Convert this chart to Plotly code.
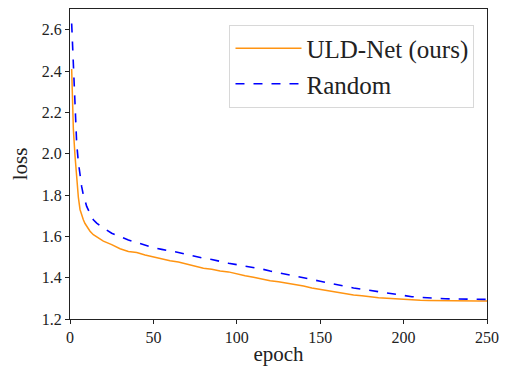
import plotly.graph_objects as go

epochs = [1, 2, 3, 4, 5, 6, 7, 8, 9, 10, 12, 14, 16, 18, 20,
          25, 30, 35, 40, 45, 50, 55, 60, 65, 70, 75, 80, 85, 90, 95,
          100, 105, 110, 115, 120, 125, 130, 135, 140, 145, 150, 155, 160,
          165, 170, 175, 180, 185, 190, 195, 200, 205, 210, 215, 220, 225,
          230, 235, 240, 245, 250]

uld_net = [2.41, 2.12, 1.99, 1.87, 1.79, 1.73, 1.70, 1.68, 1.662, 1.648,
           1.625, 1.608, 1.597, 1.585, 1.577,
           1.560, 1.540, 1.527, 1.522, 1.510, 1.500, 1.490, 1.482, 1.476,
           1.466, 1.458, 1.446, 1.441, 1.432, 1.428,
           1.417, 1.409, 1.402, 1.393, 1.385, 1.380, 1.374, 1.365, 1.360,
           1.350, 1.343, 1.335, 1.328,
           1.322, 1.316, 1.312, 1.306, 1.303, 1.300, 1.297, 1.294, 1.292,
           1.291, 1.290, 1.289, 1.288,
           1.288, 1.287, 1.287, 1.287, 1.287]

random_init = [2.63, 2.42, 2.20, 2.05, 1.96, 1.89, 1.84, 1.80, 1.77, 1.745,
               1.71, 1.68, 1.664, 1.650, 1.640,
               1.615, 1.598, 1.582, 1.570, 1.558, 1.545, 1.537, 1.530, 1.522,
               1.512, 1.502, 1.494, 1.488, 1.478, 1.470,
               1.463, 1.456, 1.450, 1.442, 1.432, 1.424, 1.415, 1.410, 1.402,
               1.392, 1.383, 1.374, 1.365,
               1.357, 1.350, 1.344, 1.338, 1.331, 1.325, 1.319, 1.314, 1.308,
               1.305, 1.302, 1.300, 1.298,
               1.297, 1.296, 1.295, 1.295, 1.295]

y_ticks = [1.2, 1.4, 1.6, 1.8, 2.0, 2.2, 2.4, 2.6]
x_ticks = [0, 50, 100, 150, 200, 250]

FONT = "Liberation Serif"

fig = go.Figure()
fig.add_trace(go.Scatter(x=epochs, y=uld_net, mode="lines", name="ULD-Net (ours)",
                         line=dict(color="#ff9412", width=1.5)))
fig.add_trace(go.Scatter(x=epochs, y=random_init, mode="lines", name="Random",
                         line=dict(color="#0000ff", width=1.6, dash="dash")))

axis_common = dict(showline=True, linecolor="#222", linewidth=1, mirror=True,
                   ticks="outside", ticklen=4, tickcolor="#222", showgrid=False,
                   zeroline=False, tickfont=dict(family=FONT, size=16, color="#222"))

# the page body has an 8px margin, so the figure is 8px smaller on each side
fig.update_layout(
    width=500, height=365,
    margin=dict(l=62, r=21, t=1, b=54),
    paper_bgcolor="white", plot_bgcolor="white",
    font=dict(family=FONT, color="#222"),
    xaxis=dict(range=[0, 250], tickvals=x_ticks,
               title=dict(text="epoch", font=dict(family=FONT, size=21, color="#222"), standoff=1),
               **axis_common),
    yaxis=dict(range=[1.2, 2.7], tickvals=y_ticks, tickformat=".1f",
               title=dict(text="loss", font=dict(family=FONT, size=21, color="#222"), standoff=11),
               **axis_common),
    legend=dict(x=0.97, y=0.95, xanchor="right", yanchor="top",
                bgcolor="white", bordercolor="#d8d8d8", borderwidth=1,
                font=dict(family=FONT, size=25, color="#222"),
                itemwidth=66, tracegroupgap=0),
    showlegend=True,
)

fig.write_html("out.html")
